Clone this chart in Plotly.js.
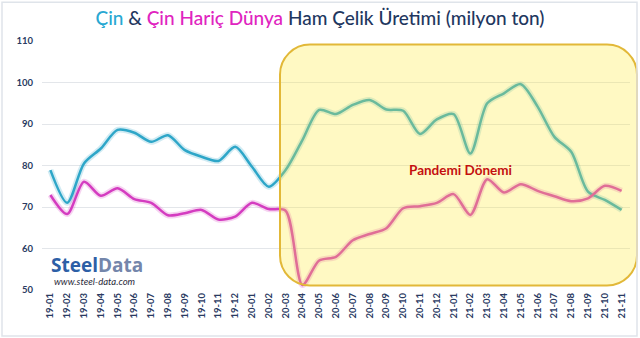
<!DOCTYPE html>
<html><head><meta charset="utf-8">
<script src="https://cdn.plot.ly/plotly-3.0.1.min.js"></script>
<style>body{margin:0;background:#fff}#c{width:640px;height:338px}</style>
</head><body><div id="c"></div>
<script>
const months = ["19-01","19-02","19-03","19-04","19-05","19-06","19-07","19-08","19-09","19-10","19-11","19-12",
"20-01","20-02","20-03","20-04","20-05","20-06","20-07","20-08","20-09","20-10","20-11","20-12",
"21-01","21-02","21-03","21-04","21-05","21-06","21-07","21-08","21-09","21-10","21-11"];
const china = [78.9,71.0,80.5,84.1,88.6,87.9,85.7,87.3,83.7,82.1,81.1,84.5,
79.7,74.9,78.9,86.1,93.4,92.4,94.6,95.8,93.5,93.2,87.6,91.1,
92.4,82.9,95.0,97.4,99.6,94.2,86.9,83.3,73.7,71.7,69.3];
const world = [72.9,68.3,76.1,72.7,74.5,71.9,71.0,68.0,68.5,69.3,67.0,67.7,
71.0,69.5,69.1,51.2,57.1,58.0,62.0,63.5,64.9,69.7,70.2,71.0,
73.1,68.1,76.7,73.5,75.5,73.9,72.6,71.4,72.1,75.1,73.9];
const yTicks = [50,60,70,80,90,100,110];

const W=640,H=338,L=42,R=10,T=40.7,B=48;
const pw=W-L-R, ph=H-T-B;
const px=v=>(v-L)/pw, py=v=>(H-B-v)/ph;

function roundRect(x0,y0,x1,y1,r){
  const rx=r/pw, ry=r/ph, k=0.5523;
  const a=px(x0),b=px(x1),t=py(y0),u=py(y1);
  return `M ${a+rx},${t} L ${b-rx},${t} C ${b-rx+k*rx},${t} ${b},${t-ry+k*ry} ${b},${t-ry} `+
         `L ${b},${u+ry} C ${b},${u+ry-k*ry} ${b-rx+k*rx},${u} ${b-rx},${u} `+
         `L ${a+rx},${u} C ${a+rx-k*rx},${u} ${a},${u+ry-k*ry} ${a},${u+ry} `+
         `L ${a},${t-ry} C ${a},${t-ry+k*ry} ${a+rx-k*rx},${t} ${a+rx},${t} Z`;
}
const rr = roundRect(280,44.3,637,285.5,30);

const cyan='#2ea6c8', mag='#d43cc0';
const traces=[
 {x:months,y:china,type:'scatter',mode:'lines',line:{color:cyan,width:6,shape:'spline',smoothing:0.8},opacity:0.22,hoverinfo:'skip'},
 {x:months,y:world,type:'scatter',mode:'lines',line:{color:mag,width:6,shape:'spline',smoothing:0.8},opacity:0.22,hoverinfo:'skip'},
 {x:months,y:china,type:'scatter',mode:'lines',line:{color:cyan,width:2.5,shape:'spline',smoothing:0.8}},
 {x:months,y:world,type:'scatter',mode:'lines',line:{color:mag,width:2.5,shape:'spline',smoothing:0.8}}
];

const layout={
 width:W,height:H,margin:{l:L,r:R,t:T,b:B},showlegend:false,
 paper_bgcolor:'#ffffff',plot_bgcolor:'#ffffff',
 font:{family:'Lato, sans-serif',color:'#2f3d5f'},
 title:{text:'<span style="color:#28a8d2">Çin</span> & <span style="color:#e024c0">Çin Hariç Dünya</span> Ham Çelik Üretimi (milyon ton)',
   font:{family:'Lato, sans-serif',size:19,color:'#1f3760',weight:500},x:0.5,xanchor:'center',y:0.945,yanchor:'middle'},
 xaxis:{type:'category',range:[-0.5,months.length-0.5],tickangle:-90,tickfont:{size:9.5,color:'#2a3a62',family:'Lato, sans-serif',weight:'bold'},
   showgrid:false,showline:false,zeroline:false,ticks:'',ticklen:0},
 yaxis:{range:[50,110],tickvals:yTicks,ticktext:yTicks.map(String),tickfont:{size:9.5,color:'#2a3a62',weight:'bold'},
   showgrid:true,gridcolor:'#e3e6ea',gridwidth:1,zeroline:false,showline:false,ticks:'',ticklabelstandoff:8},
 shapes:[
  {type:'path',xref:'paper',yref:'paper',path:rr,fillcolor:'#ffec30',opacity:0.29,line:{width:0},layer:'above'},
  {type:'path',xref:'paper',yref:'paper',path:rr,fillcolor:'rgba(0,0,0,0)',line:{color:'#e2b838',width:2},layer:'above'},
  {type:'rect',xref:'paper',yref:'paper',x0:px(2),x1:px(637),y0:py(336),y1:py(2),line:{color:'#dfe4ea',width:1.5},fillcolor:'rgba(0,0,0,0)'}
 ],
 annotations:[
  {xref:'paper',yref:'paper',x:px(460),y:py(170),xanchor:'center',yanchor:'middle',text:'<b>Pandemi Dönemi</b>',showarrow:false,
   font:{size:13.5,color:'#c41010',family:'Lato, sans-serif'}},
  {xref:'paper',yref:'paper',x:px(49),y:py(265),xanchor:'left',yanchor:'middle',showarrow:false,
   text:'<b><span style="color:#2d5fa6">Steel</span><span style="color:#7486ab">Data</span></b>',
   font:{size:19,family:'Open Sans, sans-serif'}},
  {xref:'paper',yref:'paper',x:px(52),y:py(281),xanchor:'left',yanchor:'middle',showarrow:false,
   text:'<i>www.steel-data.com</i>',font:{size:9.5,color:'#2a2a3a',family:'Lato, sans-serif'}}
 ]
};
Plotly.newPlot('c',traces,layout,{displayModeBar:false,staticPlot:true});
</script></body></html>
